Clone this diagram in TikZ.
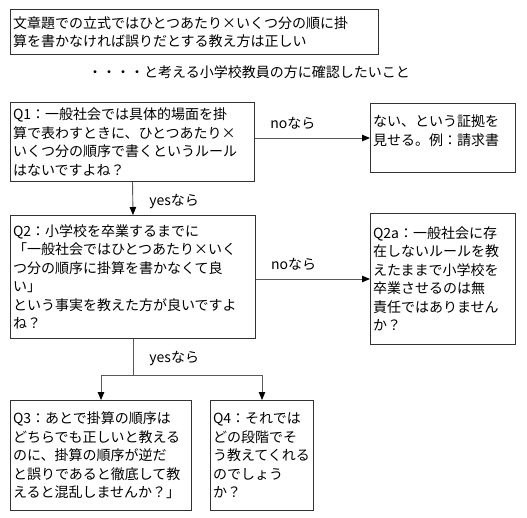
\documentclass[tikz,border=0pt]{standalone}
\usepackage{fontspec}
\setmainfont{Noto Sans CJK JP}
\usetikzlibrary{arrows.meta}
\tikzset{
  qbox/.style={draw=black!80, line width=1pt, anchor=north west, align=left,
    inner xsep=2.5pt, inner ysep=2pt, font=\fontsize{14}{18.5}\selectfont},
  arr/.style={draw=black!65, line width=0.9pt,
    -{Triangle[length=8pt,width=6.5pt,color=black]}},
  lbl/.style={font=\fontsize{14}{18.5}\selectfont, inner sep=0pt}
}
\begin{document}
\begin{tikzpicture}[x=1pt,y=-1pt]
\useasboundingbox (0,0) rectangle (527,517);
% 問い
\node[qbox, text width=363pt, minimum height=45pt] (title) at (10,9)
  {文章題での立式ではひとつあたり×いくつ分の順に掛\\算を書かなければ誤りだとする教え方は正しい};
\node[lbl, anchor=west] (sub) at (88,72) {・・・・と考える小学校教員の方に確認したいこと};
% Q1
\node[qbox, text width=239pt, minimum height=79pt] (q1) at (10,102)
  {Q1：一般社会では具体的場面を掛\\算で表わすときに、ひとつあたり×\\いくつ分の順序で書くというルール\\はないですよね？};
\node[qbox, text width=140pt, minimum height=69pt, text depth=34pt] (no) at (370,103)
  {ない、という証拠を\\見せる。例：請求書};
% Q2
\node[qbox, text width=240pt, minimum height=123pt] (q2) at (10,215)
  {Q2：小学校を卒業するまでに\\「一般社会ではひとつあたり×いく\\つ分の順序に掛算を書かなくて良\\い」\\という事実を教えた方が良いですよ\\ね？};
\node[qbox, text width=140pt, minimum height=131pt] (q2a) at (370,213)
  {Q2a：一般社会に存\\在しないルールを教\\えたままで小学校を\\卒業させるのは無\\責任ではありません\\か？};
% Q3, Q4
\node[qbox, text width=176pt, minimum height=110pt] (q3) at (10,400)
  {Q3：あとで掛算の順序は\\どちらでも正しいと教える\\のに、掛算の順序が逆だ\\と誤りであると徹底して教\\えると混乱しませんか？」};
\node[qbox, text width=98pt, minimum height=110pt] (q4) at (210,400)
  {Q4：それでは\\どの段階でそ\\う教えてくれる\\のでしょう\\か？};
% 矢印
\draw[arr] (q1.east |- no.west) -- node[lbl, pos=.33, yshift=15pt] (no1) {noなら} (no.west);
\draw[arr] (q1.south) -- node[lbl, pos=.6, right=16pt] (yes1) {yesなら} (q2.north);
\draw[arr] (q2.east |- q2a.west) -- node[lbl, pos=.33, yshift=15pt] (no2) {noなら} (q2a.west);
\coordinate (fork) at (q2.south |- 0,375);
\draw[arr] (q2.south) -- node[lbl, pos=.54, right=16pt] (yes2) {yesなら} (fork) -| (q3.north);
\draw[arr] (fork) -| (q4.north);
\end{tikzpicture}
\end{document}
